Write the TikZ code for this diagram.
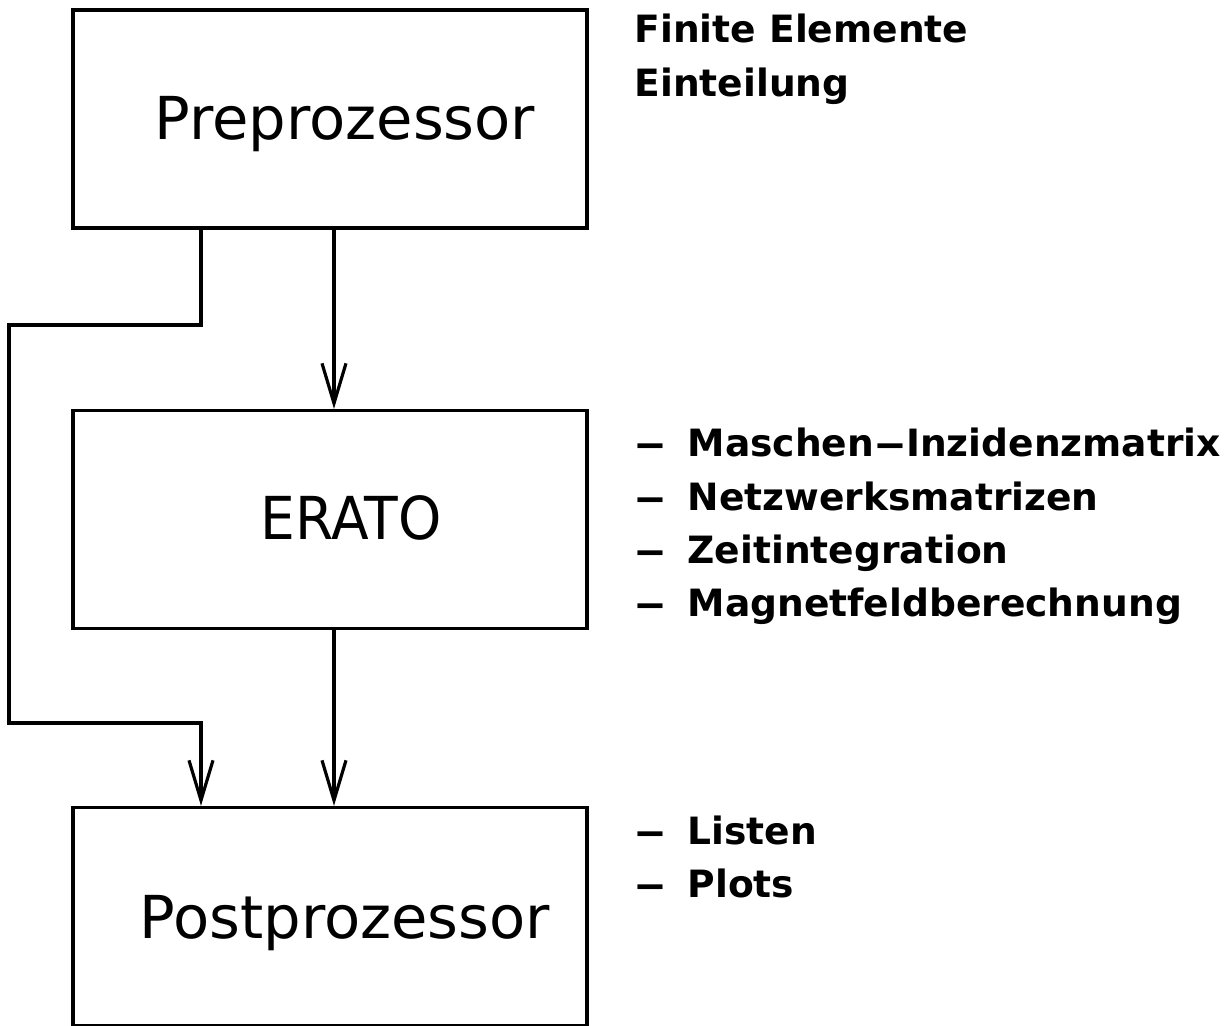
\documentclass[tikz,border=0pt]{standalone}
\usepackage{fontspec}
\usepackage{graphicx}
\usetikzlibrary{arrows.meta}
\newfontfamily\boxfont{DejaVu Sans}
\newfontfamily\notefont{DejaVu Sans}
% a wide dash as used in the note lists
\newcommand{\longdash}{\scalebox{1.7}[1]{–}}

\begin{document}
\begin{tikzpicture}[x=0.5pt, y=-0.5pt, line width=1.6pt,
  block/.style={draw, rectangle, minimum width=257pt, minimum height=109pt, inner sep=0pt},
  title/.style={anchor=base west, inner sep=0pt, font=\boxfont\fontsize{29.6}{35}\selectfont},
  note/.style={anchor=base west, inner sep=0pt, font=\notefont\bfseries\fontsize{18.8}{23}\selectfont},
  flow/.style={-{Straight Barb[length=20pt, width=12pt]}}]

  % page frame
  \useasboundingbox (0,0) rectangle (1232,1026);

  % the three program blocks
  \node[block] (pre)  at (330,119)   {};
  \node[block] (era)  at (330,519.5) {};
  \node[block] (post) at (330,916.5) {};

  \node[title] (tpre)  at (153,140) {Preprozessor};
  \node[title] (tera)  at (259,539) {\scalebox{0.93}[1]{ERATO}};
  \node[title] (tpost) at (138,938) {Postprozessor};

  % connector columns and bends
  \coordinate (xa) at (334,0);
  \coordinate (xb) at (201,0);
  \coordinate (bend1) at (9,325);
  \coordinate (bend2) at (9,723);

  \draw[flow] (pre.south -| xa) -- (era.north -| xa);
  \draw[flow] (era.south -| xa) -- (post.north -| xa);
  \draw[flow] (pre.south -| xb) |- (bend1) -- (bend2) -| (post.north -| xb);

  % notes beside the blocks
  \node[note] (n1) at (633,43) {Finite Elemente};
  \node[note] (n2) at (633,97) {Einteilung};

  \node[note] (d1) at (633,457) {\longdash};
  \node[note] (m1) at (686,457) {Maschen\longdash Inzidenzmatrix};
  \node[note] (d2) at (633,510) {\longdash};
  \node[note] (m2) at (686,510) {Netzwerksmatrizen};
  \node[note] (d3) at (633,563) {\longdash};
  \node[note] (m3) at (686,563) {Zeitintegration};
  \node[note] (d4) at (633,617) {\longdash};
  \node[note] (m4) at (686,617) {Magnetfeldberechnung};

  \node[note] (d5) at (633,844) {\longdash};
  \node[note] (p1) at (686,844) {Listen};
  \node[note] (d6) at (633,897) {\longdash};
  \node[note] (p2) at (686,897) {Plots};
\end{tikzpicture}
\end{document}
